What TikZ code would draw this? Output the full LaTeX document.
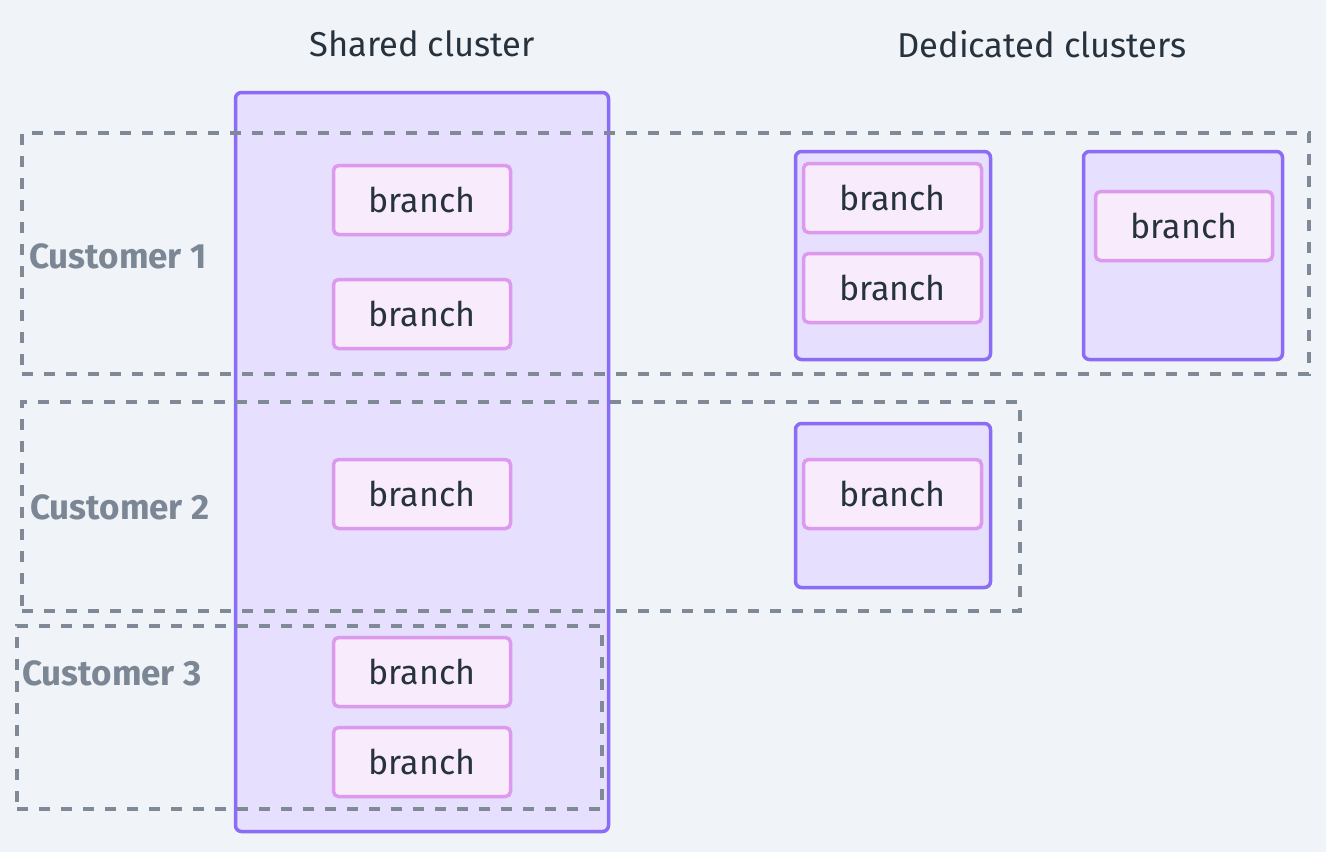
\documentclass[tikz,border=0pt]{standalone}
\usepackage{fontspec}
\setmainfont{Fira Sans}
\definecolor{bgc}{HTML}{F0F3F7}
\definecolor{clstroke}{HTML}{8B6CF6}
\definecolor{clfill}{HTML}{E6DFFE}
\definecolor{brstroke}{HTML}{DD99EE}
\definecolor{brfill}{HTML}{F7EBFC}
\definecolor{dashc}{HTML}{7F8A96}
\definecolor{labc}{HTML}{7B8794}
\definecolor{txtc}{HTML}{26323E}
\begin{document}
\begin{tikzpicture}[x=1pt,y=-1pt,
  cluster/.style={draw=clstroke,fill=clfill,line width=3.5pt,rounded corners=6pt,inner sep=0pt},
  branchbox/.style={draw=brstroke,fill=brfill,line width=3.5pt,rounded corners=5pt,inner sep=0pt,
    minimum height=69pt,text=txtc,font=\fontsize{34}{40}\selectfont},
  custbox/.style={draw=dashc,line width=4pt,dash pattern=on 11pt off 11pt,inner sep=0pt},
  custlabel/.style={anchor=west,text=labc,font=\fontsize{35}{40}\selectfont\bfseries,inner sep=0pt},
  title/.style={text=txtc,font=\fontsize{34.5}{40}\selectfont,inner sep=0pt}]
\useasboundingbox (0,0) rectangle (1326,852);
\fill[bgc] (0,0) rectangle (1326,852);

\node[title] (t1) at (422,44) {Shared cluster};
\node[title] (t2) at (1042,44) {Dedicated clusters};

\node[cluster,minimum width=373pt,minimum height=739pt] (shared) at (422,462) {};
\node[cluster,minimum width=195pt,minimum height=208pt] (dedA) at (893,255.5) {};
\node[cluster,minimum width=199pt,minimum height=208pt] (dedB) at (1183,255.5) {};
\node[cluster,minimum width=195pt,minimum height=164pt] (dedC) at (893,505.5) {};

\node[branchbox,minimum width=177pt] (s1) at (422,200) {branch};
\node[branchbox,minimum width=177pt] (s2) at (422,314) {branch};
\node[branchbox,minimum width=177pt] (s3) at (422,494) {branch};
\node[branchbox,minimum width=177pt] (s4) at (422,672) {branch};
\node[branchbox,minimum width=177pt] (s5) at (422,762) {branch};
\node[branchbox,minimum width=178pt] (a1) at (892.5,198) {branch};
\node[branchbox,minimum width=178pt] (a2) at (892.5,288) {branch};
\node[branchbox,minimum width=177pt] (b1) at (1184,226) {branch};
\node[branchbox,minimum width=178pt] (c1) at (892.5,494) {branch};

\node[custbox,minimum width=1287pt,minimum height=241pt] (cust1) at (665.5,253.5) {};
\node[custbox,minimum width=998pt,minimum height=209pt] (cust2) at (521,506.5) {};
\node[custbox,minimum width=585pt,minimum height=183pt] (cust3) at (309.5,717.5) {};

\node[custlabel] (l1) at (29,256) {Customer 1};
\node[custlabel] (l2) at (30,507) {Customer 2};
\node[custlabel] (l3) at (22,673) {Customer 3};
\end{tikzpicture}
\end{document}
